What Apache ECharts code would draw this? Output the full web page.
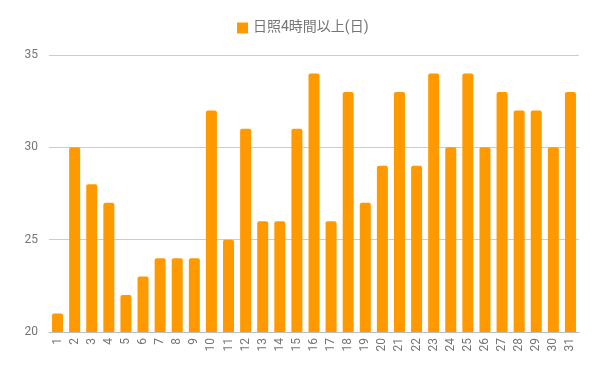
<!DOCTYPE html>
<html><head><meta charset="utf-8">
<script src="https://cdn.jsdelivr.net/npm/echarts@6/dist/echarts.min.js"></script>
<style>html,body{margin:0;padding:0;background:#fff}#c{width:600px;height:371px}</style>
</head><body><div id="c"></div>
<script>
const categories = ['1','2','3','4','5','6','7','8','9','10','11','12','13','14','15','16','17','18','19','20','21','22','23','24','25','26','27','28','29','30','31'];
const values = [21,30,28,27,22,23,24,24,24,32,25,31,26,26,31,34,26,33,27,29,33,29,34,30,34,30,33,32,32,30,33];
const seriesName = '日照4時間以上(日)';
const yTicks = {min:20, max:35, interval:5};
const chart = echarts.init(document.getElementById('c'));
chart.setOption({
  animation:false,
  textStyle:{fontFamily:'Roboto, "Noto Sans CJK JP", sans-serif'},
  legend:{top:16, left:232, itemWidth:11, itemHeight:11, itemGap:7,
    icon:'rect', textStyle:{color:'#757575', fontSize:14, fontFamily:'Roboto, "Noto Sans CJK JP", sans-serif'}, data:[seriesName]},
  grid:{left:49, right:21, top:55, bottom:39, containLabel:false},
  xAxis:{type:'category', data:categories,
    axisLine:{lineStyle:{color:'#bdbdbd'}}, axisTick:{show:false},
    axisLabel:{rotate:90, color:'#757575', fontSize:12, interval:0, margin:6}},
  yAxis:{type:'value', min:yTicks.min, max:yTicks.max, interval:yTicks.interval,
    axisLine:{show:false}, axisTick:{show:false},
    axisLabel:{color:'#757575', fontSize:12, margin:11},
    splitLine:{lineStyle:{color:'#cccccc'}}},
  series:[{name:seriesName, type:'bar', data:values, barWidth:11,
    itemStyle:{color:'#ff9900', borderRadius:[2,2,0,0]}}]
});
</script></body></html>
